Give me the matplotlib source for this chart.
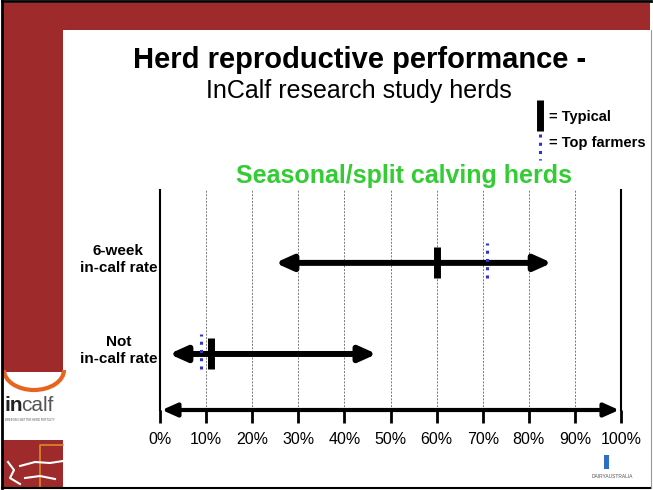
import matplotlib
matplotlib.use("Agg")
import matplotlib.pyplot as plt
from matplotlib.patches import Rectangle, Arc
from matplotlib.transforms import ScaledTranslation

plt.rcParams["font.family"] = ["Liberation Sans", "DejaVu Sans"]

# data (percent)
categories = ["Not\nin-calf rate", "6-week\nin-calf rate"]
range_low = [2, 25]
range_high = [47, 85]
typical = [11, 60]
top_farmers = [9, 71]
ticks = list(range(0, 101, 10))
tick_labels = [f"{t}%" for t in ticks]

RED = "#9E2A2B"
GREEN = "#33CC33"
BLUE = "#3333CC"

W, H = 653, 490
fig = plt.figure(figsize=(W / 100, H / 100), dpi=100)

# ---- slide background (pixel coordinates) ----
bg = fig.add_axes([0, 0, 1, 1])
bg.set_xlim(0, W)
bg.set_ylim(H, 0)
bg.axis("off")
bg.add_patch(Rectangle((3, 3), 647, 27, color=RED, lw=0))
bg.add_patch(Rectangle((3, 3), 60, 369, color=RED, lw=0))
bg.add_patch(Rectangle((3, 440), 60, 47, color=RED, lw=0))
bg.plot([40, 40, 63], [487, 445, 445], color="#D98A2B", lw=1.2)
bg.plot([8, 14, 10, 20], [462, 470, 478, 484], color="white", lw=1.5)
bg.plot([20, 35, 50, 63], [466, 462, 463, 461], color="white", lw=1.5)
bg.plot([25, 40, 55], [478, 476, 479], color="white", lw=1.5)
# incalf logo
bg.add_patch(Arc((34, 370), 60, 40, theta1=0, theta2=180, color="#E8641E", lw=3))
bg.text(4, 405, "in", fontsize=15, fontweight="bold", color="#222222", va="center")
bg.text(21, 405, "calf", fontsize=15, color="#555555", va="center")
bg.text(5, 420, "BREEDING BETTER HERD FERTILITY", fontsize=2, color="#555555", va="center")
# dairy australia logo
bg.add_patch(Rectangle((604, 455), 5, 14, color="#2D6FC4", lw=0))
bg.text(612, 476, "DAIRYAUSTRALIA", fontsize=3.5, color="#555555", ha="center", va="center")
# frame
bg.plot([2, 2], [1, 488], color="black", lw=2)
bg.plot([2, 651], [488, 488], color="black", lw=1.5)
bg.plot([2, 651], [1.5, 1.5], color="black", lw=2)
bg.plot([650.5, 650.5], [30, 488], color="#999999", lw=0.8)

# titles and legend
bg.text(360, 60, "Herd reproductive performance -", fontsize=21, fontweight="bold",
        ha="center", va="center")
bg.text(359, 91, "InCalf research study herds", fontsize=18, ha="center", va="center")
bg.text(404, 176, "Seasonal/split calving herds", fontsize=18, fontweight="bold",
        color=GREEN, ha="center", va="center")
bg.plot([540, 540], [100, 131], color="black", lw=5, solid_capstyle="butt")
bg.plot([540, 540], [134, 160], color=BLUE, lw=2.2, linestyle=(0, (1, 1.7)))
bg.text(549, 117, "= Typical", fontsize=10.5, fontweight="bold", va="center")
bg.text(549, 143, "= Top farmers", fontsize=10.5, fontweight="bold", va="center")

# ---- chart ----
ax = fig.add_axes([160 / W, 1 - 410 / H, 461 / W, 220 / H])
ax.set_facecolor("none")
ax.set_xlim(0, 100)
ax.set_ylim(0.385, 2.8)
for s in ["top", "bottom"]:
    ax.spines[s].set_visible(False)
for s in ["left", "right"]:
    ax.spines[s].set_linewidth(1.5)

ax.set_xticks(ticks, tick_labels)
ax.tick_params(axis="x", length=9, width=2, direction="out", pad=7, labelsize=11.5)
ax.grid(axis="x", linestyle=(0, (2, 1.5)), color="#777777", lw=0.7)

ys = [i + 1 for i in range(len(categories))]
ax.set_yticks(ys, categories)
ax.tick_params(axis="y", length=0, pad=30)
shift = ScaledTranslation(0, 6 / 100, fig.dpi_scale_trans)
for lbl in ax.get_yticklabels():
    lbl.set_ha("center")
    lbl.set_multialignment("center")
    lbl.set_fontweight("bold")
    lbl.set_fontsize(11)
    lbl.set_transform(lbl.get_transform() + shift)

for y, lo, hi, typ, top in zip(ys, range_low, range_high, typical, top_farmers):
    ax.annotate("", xy=(lo, y), xytext=(hi, y),
                arrowprops=dict(arrowstyle="<|-|>,head_length=1.0,head_width=0.45",
                                lw=4.3, color="black", mutation_scale=10,
                                shrinkA=0, shrinkB=0))
    ax.plot([typ, typ], [y - 0.17, y + 0.17], color="black", lw=5,
            solid_capstyle="butt", zorder=4)
    ax.plot([top, top], [y - 0.17, y + 0.22], color=BLUE, lw=2.2,
            linestyle=(0, (1, 1.7)), zorder=5)

# bottom axis arrow
ax.annotate("", xy=(0.4, 0.385), xytext=(99.6, 0.385),
            arrowprops=dict(arrowstyle="<|-|>,head_length=0.9,head_width=0.4",
                            lw=3, color="black", mutation_scale=10,
                            shrinkA=0, shrinkB=0),
            annotation_clip=False)

fig.savefig("out.png", dpi=100)
